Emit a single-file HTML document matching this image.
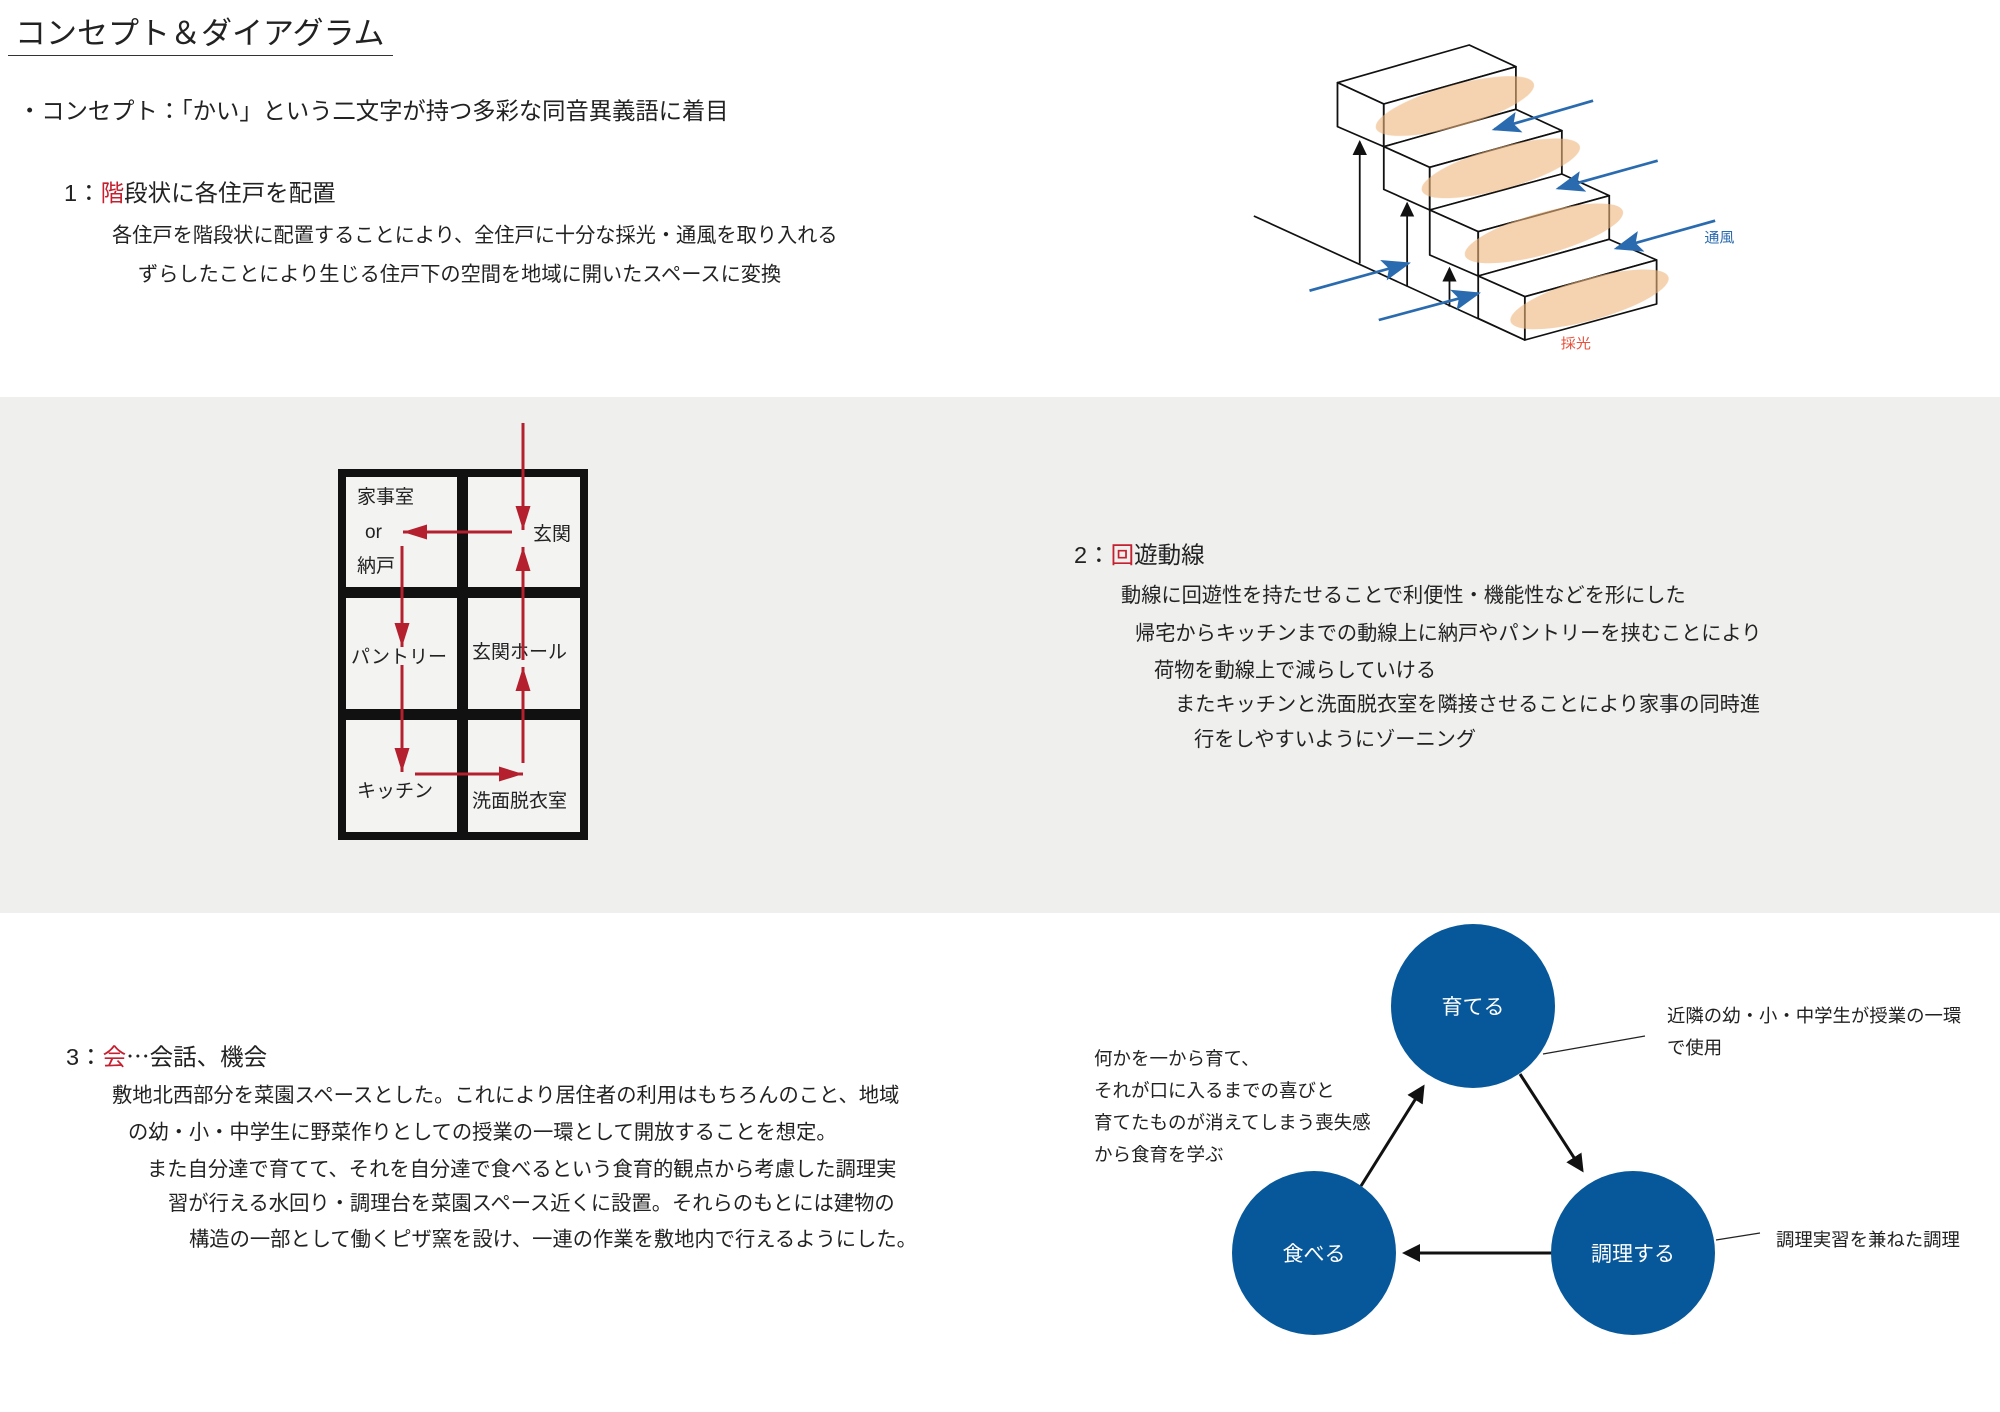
<!DOCTYPE html>
<html><head><meta charset="utf-8">
<style>
html,body{margin:0;padding:0;}
body{width:2000px;height:1412px;position:relative;background:#fff;overflow:hidden;font-family:"Liberation Sans","Noto Sans CJK JP",sans-serif;color:#222;}
.t{position:absolute;white-space:nowrap;line-height:1;}
.r{color:#c4202f;}
.band{position:absolute;left:0;top:397px;width:2000px;height:516px;background:#efefee;}
.cell{position:absolute;font-size:19px;}
.j{font-family:"Noto Sans CJK JP",sans-serif;}
</style></head><body>
<div class="band"></div>

<div class="t" style="left:15px;top:18px;font-size:31px;">コンセプト＆ダイアグラム</div>
<div style="position:absolute;left:8px;top:55px;width:385px;height:1px;background:#333;"></div>
<div class="t" style="left:18px;top:100px;font-size:23.3px;">・コンセプト：「かい」という二文字が持つ多彩な同音異義語に着目</div>
<div class="t" style="left:64px;top:182px;font-size:23.5px;">1：<span class="r">階</span>段状に各住戸を配置</div>
<div class="t" style="left:112px;top:226px;font-size:20.2px;">各住戸を階段状に配置することにより、全住戸に十分な採光・通風を取り入れる</div>
<div class="t" style="left:138px;top:265px;font-size:20.2px;">ずらしたことにより生じる住戸下の空間を地域に開いたスペースに変換</div>

<svg style="position:absolute;left:1200px;top:30px;" width="560" height="340" viewBox="0 0 1560 1020" preserveAspectRatio="none">
<defs>
<marker id="bk" markerWidth="9" markerHeight="8" refX="8" refY="4" orient="auto" markerUnits="strokeWidth"><path d="M0,0 L9,4 L0,8z" fill="#111"/></marker>
<marker id="bl" markerWidth="10" markerHeight="8" refX="9" refY="4" orient="auto" markerUnits="strokeWidth"><path d="M0,0 L10,4 L0,8 L2,4z" fill="#2a6bb0"/></marker>
</defs>
<g fill="#fff" stroke="#111" stroke-width="5" stroke-linejoin="round">
<line x1="150" y1="558" x2="905" y2="930"/>
<polygon points="383,158 750,45 880,110 512,222"/>
<polygon points="383,158 383,290 512,350 512,222"/>
<polygon points="512,222 880,110 880,238 512,350"/>
<polygon points="512,350 880,238 1008,302 640,412"/>
<polygon points="512,350 512,478 640,540 640,412"/>
<polygon points="640,412 1008,302 1008,432 640,540"/>
<polygon points="640,540 1008,432 1140,497 775,605"/>
<polygon points="640,540 640,675 775,738 775,605"/>
<polygon points="775,605 1140,497 1140,628 775,738"/>
<polygon points="775,738 1140,628 1272,690 905,800"/>
<polygon points="775,738 775,865 905,930 905,800"/>
<polygon points="905,800 1272,690 1272,822 905,930"/>
</g>
<g fill="#eeb67c" opacity="0.6">
<ellipse cx="710" cy="228" rx="230" ry="62" transform="rotate(-17 710 228)"/>
<ellipse cx="838" cy="415" rx="230" ry="62" transform="rotate(-17 838 415)"/>
<ellipse cx="958" cy="610" rx="230" ry="62" transform="rotate(-17 958 610)"/>
<ellipse cx="1085" cy="808" rx="230" ry="62" transform="rotate(-17 1085 808)"/>
</g>
<g stroke="#111" stroke-width="5" marker-end="url(#bk)">
<line x1="445" y1="700" x2="445" y2="335"/>
<line x1="577" y1="770" x2="577" y2="520"/>
<line x1="695" y1="830" x2="695" y2="715"/>
</g>
<g stroke="#2a6bb0" stroke-width="8" marker-end="url(#bl)">
<line x1="1095" y1="212" x2="820" y2="298"/>
<line x1="1275" y1="392" x2="998" y2="475"/>
<line x1="1435" y1="572" x2="1160" y2="655"/>
<line x1="305" y1="782" x2="580" y2="700"/>
<line x1="498" y1="870" x2="775" y2="790"/>
</g>
<text x="1405" y="637" font-size="42" fill="#2a6bb0" font-family="Noto Sans CJK JP,sans-serif">通風</text>
<text x="1005" y="955" font-size="42" fill="#e8503a" font-family="Noto Sans CJK JP,sans-serif">採光</text>
</svg>

<!-- floor grid -->
<div style="position:absolute;left:338px;top:469px;width:250px;height:371px;background:#111;"></div>
<div style="position:absolute;left:346px;top:477px;width:111px;height:110px;background:#f3f3f2;"></div>
<div style="position:absolute;left:468px;top:477px;width:112px;height:110px;background:#f3f3f2;"></div>
<div style="position:absolute;left:346px;top:598px;width:111px;height:111px;background:#f3f3f2;"></div>
<div style="position:absolute;left:468px;top:598px;width:112px;height:111px;background:#f3f3f2;"></div>
<div style="position:absolute;left:346px;top:720px;width:111px;height:112px;background:#f3f3f2;"></div>
<div style="position:absolute;left:468px;top:720px;width:112px;height:112px;background:#f3f3f2;"></div>
<div class="t cell" style="left:357px;top:488px;">家事室</div>
<div class="t cell" style="left:365px;top:523px;">or</div>
<div class="t cell" style="left:357px;top:557px;">納戸</div>
<div class="t cell" style="left:533px;top:525px;">玄関</div>
<div class="t cell" style="left:351px;top:648px;">パントリー</div>
<div class="t cell" style="left:472px;top:643px;">玄関ホール</div>
<div class="t cell" style="left:357px;top:782px;">キッチン</div>
<div class="t cell" style="left:472px;top:792px;">洗面脱衣室</div>
<svg style="position:absolute;left:0;top:0;" width="2000" height="1412">
<defs><marker id="rd" markerWidth="8" markerHeight="5" refX="8" refY="2.5" orient="auto" markerUnits="strokeWidth"><path d="M0,0 L8,2.5 L0,5z" fill="#b5202e"/></marker></defs>
<g stroke="#b5202e" stroke-width="3" fill="none">
<line x1="523" y1="423" x2="523" y2="530" marker-end="url(#rd)"/>
<line x1="512" y1="532" x2="403" y2="532" marker-end="url(#rd)"/>
<line x1="402" y1="546" x2="402" y2="647" marker-end="url(#rd)"/>
<line x1="402" y1="665" x2="402" y2="772" marker-end="url(#rd)"/>
<line x1="415" y1="774" x2="523" y2="774" marker-end="url(#rd)"/>
<line x1="523" y1="763" x2="523" y2="667" marker-end="url(#rd)"/>
<line x1="523" y1="660" x2="523" y2="547" marker-end="url(#rd)"/>
</g>
</svg>

<div class="t" style="left:1074px;top:544px;font-size:23.5px;">2：<span class="r">回</span>遊動線</div>
<div class="t" style="left:1121px;top:586px;font-size:20.2px;">動線に回遊性を持たせることで利便性・機能性などを形にした</div>
<div class="t" style="left:1135px;top:624px;font-size:20.2px;">帰宅からキッチンまでの動線上に納戸やパントリーを挟むことにより</div>
<div class="t" style="left:1154px;top:661px;font-size:20.2px;">荷物を動線上で減らしていける</div>
<div class="t" style="left:1175px;top:695px;font-size:20.2px;">またキッチンと洗面脱衣室を隣接させることにより家事の同時進</div>
<div class="t" style="left:1194px;top:730px;font-size:20.2px;">行をしやすいようにゾーニング</div>

<div class="t" style="left:66px;top:1044px;font-size:23.5px;">3：<span class="r">会</span><span class="j">…</span>会話、機会</div>
<div class="t" style="left:112px;top:1086px;font-size:20.3px;">敷地北西部分を菜園スペースとした。これにより居住者の利用はもちろんのこと、地域</div>
<div class="t" style="left:128px;top:1123px;font-size:20.3px;">の幼・小・中学生に野菜作りとしての授業の一環として開放することを想定。</div>
<div class="t" style="left:147px;top:1160px;font-size:20.3px;">また自分達で育てて、それを自分達で食べるという食育的観点から考慮した調理実</div>
<div class="t" style="left:168px;top:1194px;font-size:20.3px;">習が行える水回り・調理台を菜園スペース近くに設置。それらのもとには建物の</div>
<div class="t" style="left:189px;top:1230px;font-size:20.3px;">構造の一部として働くピザ窯を設け、一連の作業を敷地内で行えるようにした。</div>

<svg style="position:absolute;left:0;top:0;" width="2000" height="1412">
<defs><marker id="ak" markerWidth="6" markerHeight="6" refX="5" refY="3" orient="auto" markerUnits="strokeWidth"><path d="M0,0 L6,3 L0,6z" fill="#111"/></marker></defs>
<g stroke="#111" stroke-width="3" marker-end="url(#ak)">
<line x1="1520" y1="1074" x2="1582" y2="1170"/>
<line x1="1554" y1="1253" x2="1405" y2="1253"/>
<line x1="1361" y1="1186" x2="1423" y2="1087"/>
</g>
<g stroke="#222" stroke-width="1.2">
<line x1="1543" y1="1054" x2="1645" y2="1036"/>
<line x1="1716" y1="1240" x2="1760" y2="1233"/>
</g>
<g fill="#07589a">
<circle cx="1473" cy="1006" r="82"/>
<circle cx="1633" cy="1253" r="82"/>
<circle cx="1314" cy="1253" r="82"/>
</g>
<g fill="#fff" font-size="21" text-anchor="middle" font-family="Liberation Sans,Noto Sans CJK JP,sans-serif">
<text x="1473" y="1014">育てる</text>
<text x="1633" y="1261">調理する</text>
<text x="1314" y="1261">食べる</text>
</g>
</svg>
<div class="t" style="left:1094px;top:1050px;font-size:18.5px;">何かを一から育て、</div>
<div class="t" style="left:1094px;top:1082px;font-size:18.5px;">それが口に入るまでの喜びと</div>
<div class="t" style="left:1094px;top:1114px;font-size:18.5px;">育てたものが消えてしまう喪失感</div>
<div class="t" style="left:1094px;top:1146px;font-size:18.5px;">から食育を学ぶ</div>
<div class="t" style="left:1667px;top:1007px;font-size:18.4px;">近隣の幼・小・中学生が授業の一環</div>
<div class="t" style="left:1667px;top:1039px;font-size:18.4px;">で使用</div>
<div class="t" style="left:1776px;top:1231px;font-size:18.4px;">調理実習を兼ねた調理</div>
</body></html>
